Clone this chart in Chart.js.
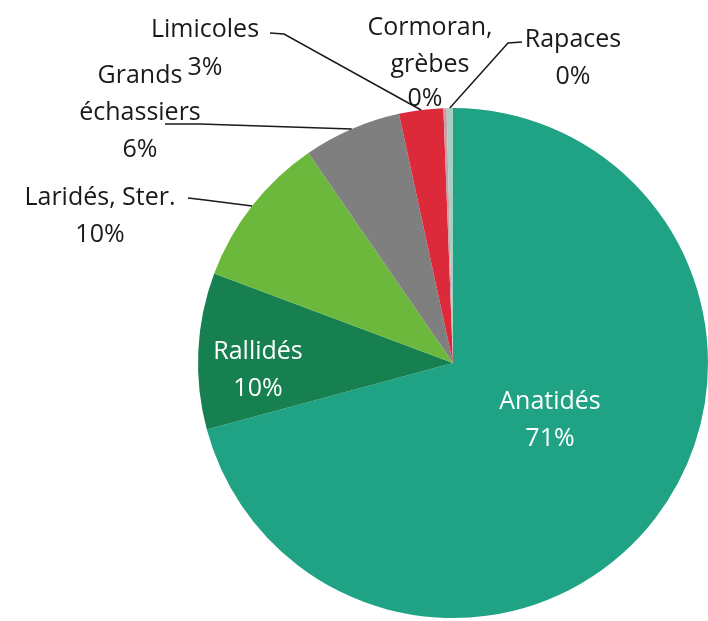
<!DOCTYPE html>
<html>
<head>
<meta charset="utf-8">
<script src="https://cdn.jsdelivr.net/npm/chart.js@4.4.1/dist/chart.umd.min.js"></script>
<style>
  html, body { margin: 0; padding: 0; background: #fff; }
  #wrap { width: 708px; height: 621px; }
</style>
</head>
<body>
<div id="wrap"><canvas id="camembert"></canvas></div>
<script>
// categories et parts
const categories = ['Anatidés', 'Rallidés', 'Laridés, Ster.', 'Grands échassiers', 'Limicoles', 'Cormoran, grèbes', 'Rapaces'];
const parts = [70.8, 9.9, 9.7, 6.2, 2.8, 0.2, 0.4];
const couleurs = ['#1fa384', '#168050', '#6cb83c', '#7f7f80', '#dd2a3b', '#c8a0a8', '#a9cfc3'];

// lignes de texte de chaque etiquette (le pourcentage est ajoute a la fin)
const lignesEtiquettes = [
    ['Anatidés'],
    ['Rallidés'],
    ['Laridés, Ster.'],
    ['Grands', 'échassiers'],
    ['Limicoles'],
    ['Cormoran,', 'grèbes'],
    ['Rapaces']
];

// placement des etiquettes: x,y du centre de la premiere ligne, et point de depart du trait
const placement = [
    { x: 550, y: 402, blanc: true },
    { x: 258, y: 352, blanc: true },
    { x: 100, y: 198, trait: [[188, 198], [205, 200]] },
    { x: 140, y: 76, trait: [[165, 124], [200, 124]] },
    { x: 205, y: 30, trait: [[270, 33], [284, 34]] },
    { x: 430, y: 28 },
    { x: 573, y: 40, trait: [[522, 42], [508, 43]] }
];

// pour Limicoles et Cormoran le pourcentage est decale
const decalePct = { 4: { x: 205, y: 68 }, 5: { x: 425, y: 99 } };

const total = parts.reduce((a, b) => a + b, 0);

const etiquettes = {
    id: 'etiquettes',
    afterDraw(chart) {
        const ctx = chart.ctx;
        const arcs = chart.getDatasetMeta(0).data;
        ctx.save();
        ctx.font = '25px "Open Sans", Lato, sans-serif';
        ctx.textAlign = 'center';
        ctx.textBaseline = 'middle';
        arcs.forEach((arc, i) => {
            const p = placement[i];
            const pct = Math.round(parts[i] / total * 100) + '%';
            ctx.fillStyle = p.blanc ? '#ffffff' : '#1a1a1a';
            const lignes = lignesEtiquettes[i];
            lignes.forEach((l, k) => ctx.fillText(l, p.x, p.y + k * 37));
            if (decalePct[i]) {
                ctx.fillText(pct, decalePct[i].x, decalePct[i].y);
            } else {
                ctx.fillText(pct, p.x, p.y + lignes.length * 37);
            }
            if (p.trait) {
                const { x, y, startAngle, endAngle, outerRadius } = arc.getProps(['x', 'y', 'startAngle', 'endAngle', 'outerRadius'], true);
                const a = (startAngle + endAngle) / 2;
                const ex = x + Math.cos(a) * outerRadius;
                const ey = y + Math.sin(a) * outerRadius;
                ctx.strokeStyle = '#1a1a1a';
                ctx.lineWidth = 1.5;
                ctx.beginPath();
                ctx.moveTo(p.trait[0][0], p.trait[0][1]);
                ctx.lineTo(p.trait[1][0], p.trait[1][1]);
                ctx.lineTo(ex, ey);
                ctx.stroke();
            }
        });
        ctx.restore();
    }
};

const ctx1 = document.getElementById('camembert').getContext('2d');
const graphique = new Chart(ctx1, {
    type: 'pie',
    data: {
        labels: categories,
        datasets: [{
            data: parts,
            backgroundColor: couleurs,
            borderWidth: 0
        }]
    },
    options: {
        responsive: true,
        maintainAspectRatio: false,
        animation: false,
        layout: { padding: { left: 198, right: 0, top: 108, bottom: 3 } },
        plugins: {
            legend: { display: false },
            tooltip: { enabled: false }
        }
    },
    plugins: [etiquettes]
});
</script>
</body>
</html>
